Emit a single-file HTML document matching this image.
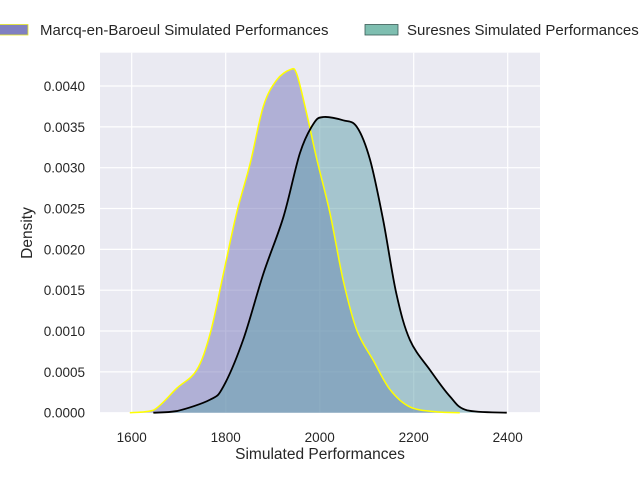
<!DOCTYPE html>
<html><head><meta charset="utf-8"><style>
body{margin:0;background:#fff;width:640px;height:480px;overflow:hidden}
svg{font-family:"Liberation Sans",Arial,sans-serif;display:block}
</style></head><body>
<svg id="chart" width="640" height="480">
<rect x="100" y="52.7" width="440" height="360" fill="#eaeaf2"/>
<g id="grid"></g>
<g id="marks"></g>
<g id="axes"></g>
<text x="320" y="459" font-size="15.5" text-anchor="middle" fill="#262626">Simulated Performances</text>
<text transform="translate(32,233) rotate(-90)" font-size="15.5" text-anchor="middle" fill="#262626">Density</text>
<g>
<g>
<rect x="-6" y="24.5" width="34" height="10.5" fill="#8080c0" stroke="#e8e820" stroke-width="0.8"/>
<text x="40" y="35" font-size="15" fill="#262626">Marcq-en-Baroeul Simulated Performances</text></g>
<g>
<rect x="365" y="24.5" width="33" height="10.5" fill="#7ebeb0" stroke="#3a5a55" stroke-width="0.8"/>
<text x="407" y="35" font-size="15" fill="#262626">Suresnes Simulated Performances</text></g>
</g>
</svg>
<script>
const xTicks=[1600,1800,2000,2200,2400];
const yTicks=[0,0.0005,0.001,0.0015,0.002,0.0025,0.003,0.0035,0.004];
const yTickLabels=["0.0000","0.0005","0.0010","0.0015","0.0020","0.0025","0.0030","0.0035","0.0040"];
const marcqX=[1596,1646,1696,1738,1767,1795,1823,1852,1880,1908,1937,1951,1972,1994,2022,2050,2079,2114,2150,2192,2249,2298];
const marcqY=[0,0.00003,0.0003,0.00052,0.00097,0.0017,0.00244,0.00305,0.00375,0.00407,0.0042,0.00415,0.00367,0.0031,0.00244,0.00162,0.00101,0.00064,0.00028,0.00007,0.00001,0];
const suresX=[1646,1696,1767,1795,1837,1880,1923,1958,1987,2008,2050,2079,2107,2135,2163,2192,2235,2277,2313,2398];
const suresY=[0,0.00002,0.00016,0.00032,0.00089,0.0017,0.0024,0.00318,0.00354,0.00362,0.00358,0.0035,0.0031,0.00236,0.00146,0.00089,0.00052,0.0002,0.00003,0];
const sx=v=>131.7+(v-1600)*94/200;
const sy=v=>412.7-v/0.004*326.7;
const NS="http://www.w3.org/2000/svg";
function mk(t,a,p){const e=document.createElementNS(NS,t);for(const k in a)e.setAttribute(k,a[k]);p.appendChild(e);return e;}
const grid=document.getElementById('grid'),axes=document.getElementById('axes'),marks=document.getElementById('marks');
xTicks.forEach(v=>{
 const l=mk('line',{x1:sx(v),x2:sx(v),y1:52.7,y2:412.7,stroke:'#fff','stroke-width':1.2},grid);
 
 
 const t=mk('text',{x:sx(v),y:442,'font-size':13.5,'text-anchor':'middle',fill:'#262626'},axes);
 t.textContent=v;
 
 
});
yTicks.forEach((v,i)=>{
 const l=mk('line',{x1:100,x2:540,y1:sy(v),y2:sy(v),stroke:'#fff','stroke-width':1.2},grid);
 
 
 const t=mk('text',{x:85,y:sy(v)+5,'font-size':13.5,'text-anchor':'end',fill:'#262626'},axes);
 t.textContent=yTickLabels[i];
 
 
});
function path(xs,ys){
 const p=xs.map((x,i)=>[sx(x),sy(ys[i])]);
 let d='M'+p[0][0]+','+p[0][1];
 for(let i=0;i<p.length-1;i++){
  const p0=p[i-1]||p[i],p1=p[i],p2=p[i+1],p3=p[i+2]||p2;
  const c1=[p1[0]+(p2[0]-p0[0])/6,p1[1]+(p2[1]-p0[1])/6];
  const c2=[p2[0]-(p3[0]-p1[0])/6,p2[1]-(p3[1]-p1[1])/6];
  d+=`C${c1[0]},${Math.min(412.7,c1[1])} ${c2[0]},${Math.min(412.7,c2[1])} ${p2[0]},${p2[1]}`;
 }
 return d;
}
const dm=path(marcqX,marcqY),ds=path(suresX,suresY);
let e=mk('path',{d:dm+'Z',fill:'rgb(118,118,186)','fill-opacity':0.5},marks);


e=mk('path',{d:ds+'Z',fill:'rgb(95,160,170)','fill-opacity':0.5},marks);


e=mk('path',{d:dm,fill:'none',stroke:'#ffff00','stroke-width':1.5},marks);


e=mk('path',{d:ds,fill:'none',stroke:'#000','stroke-width':1.8},marks);


</script>
</body></html>
